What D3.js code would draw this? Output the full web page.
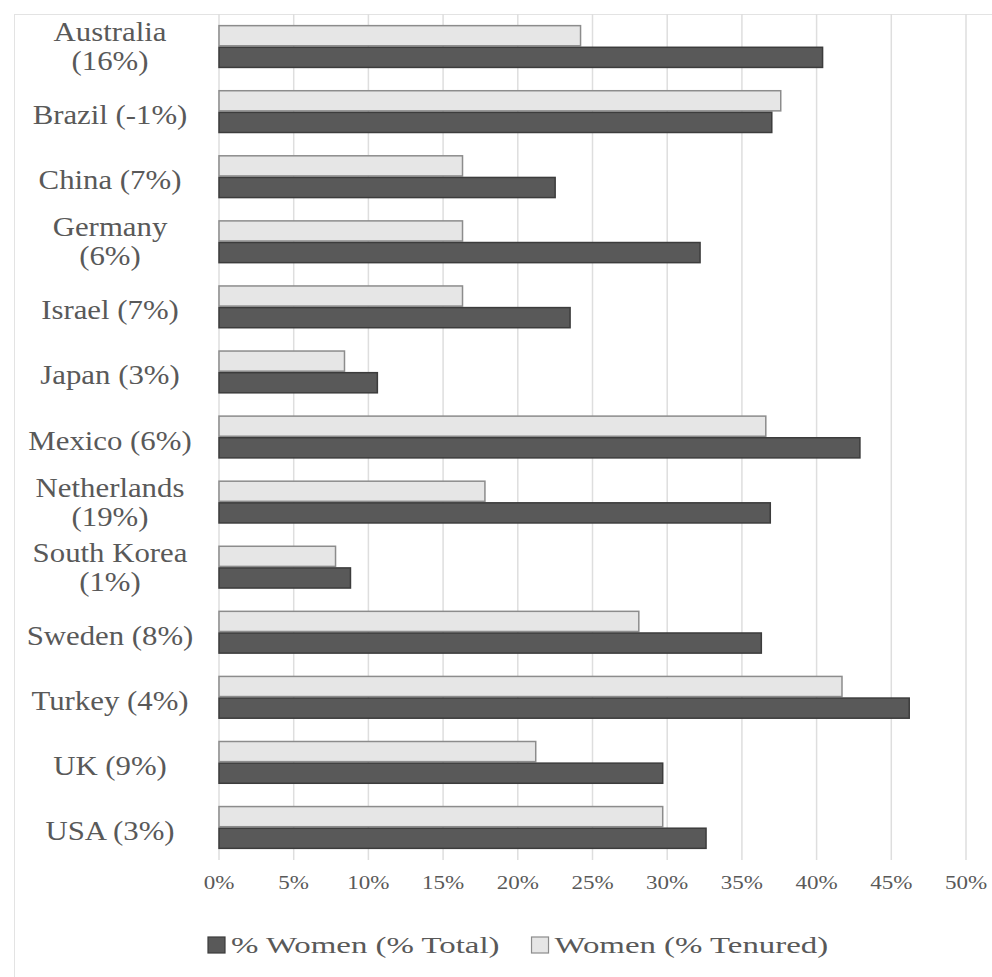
<!DOCTYPE html>
<html>
<head>
<meta charset="utf-8">
<script src="https://cdn.jsdelivr.net/npm/d3@7"></script>
<style>
  html, body { margin: 0; padding: 0; background: #ffffff; }
  svg { display: block; }
</style>
</head>
<body>
<svg id="chart" width="992" height="977"></svg>
<script>
// ---- data ----
const categories = ["Australia (16%)", "Brazil (-1%)", "China (7%)", "Germany (6%)", "Israel (7%)",
  "Japan (3%)", "Mexico (6%)", "Netherlands (19%)", "South Korea (1%)", "Sweden (8%)",
  "Turkey (4%)", "UK (9%)", "USA (3%)"];
const categoryLines = [["Australia", "(16%)"], ["Brazil (-1%)"], ["China (7%)"], ["Germany", "(6%)"],
  ["Israel (7%)"], ["Japan (3%)"], ["Mexico (6%)"], ["Netherlands", "(19%)"], ["South Korea", "(1%)"],
  ["Sweden (8%)"], ["Turkey (4%)"], ["UK (9%)"], ["USA (3%)"]];
const womenTenured = [0.242, 0.376, 0.163, 0.163, 0.163, 0.084, 0.366, 0.178, 0.078, 0.281, 0.417, 0.212, 0.297];
const womenTotal   = [0.404, 0.370, 0.225, 0.322, 0.235, 0.106, 0.429, 0.369, 0.088, 0.363, 0.462, 0.297, 0.326];
const seriesNames = ["Women (% Tenured)", "% Women (% Total)"];
const legendOrder = ["% Women (% Total)", "Women (% Tenured)"];
const tickValues = [0, 0.05, 0.10, 0.15, 0.20, 0.25, 0.30, 0.35, 0.40, 0.45, 0.50];

// ---- layout ----
const svg = d3.select("#chart");
const plotLeft = 219, plotRight = 966, plotTop = 14, plotBottom = 860;
const textColor = "#595959";
const fills = { "Women (% Tenured)": "#e6e6e6", "% Women (% Total)": "#595959" };
const strokes = { "Women (% Tenured)": "#8c8c8c", "% Women (% Total)": "#3c3c3c" };

// frame
svg.append("rect")
  .attr("x", 14.5).attr("y", 14.5).attr("width", 1000).attr("height", 1000)
  .attr("fill", "none").attr("stroke", "#e3e3e3").attr("stroke-width", 1);

const x = d3.scaleLinear().domain([0, 0.5]).range([plotLeft, plotRight]);
const y = d3.scaleBand().domain(categories).range([plotTop, plotBottom])
  .paddingInner(0.335).paddingOuter(0.1675);
const ySub = d3.scaleBand().domain(seriesNames).range([0, y.bandwidth()]);

// gridlines
svg.append("g").selectAll("line").data(tickValues).join("line")
  .attr("x1", d => x(d)).attr("x2", d => x(d))
  .attr("y1", plotTop).attr("y2", plotBottom)
  .attr("stroke", "#dedede").attr("stroke-width", 1.5);

// x tick labels
svg.append("g").selectAll("text").data(tickValues).join("text")
  .attr("transform", d => `translate(${x(d)},889) scale(1.28,1)`)
  .attr("text-anchor", "middle")
  .attr("font-family", "'Liberation Serif', 'Times New Roman', serif")
  .attr("font-size", 18)
  .attr("fill", textColor)
  .text(d => d3.format(".0%")(d));

// bars
const rows = categories.map((c, i) => ({
  cat: c,
  vals: [
    { s: "Women (% Tenured)", v: womenTenured[i] },
    { s: "% Women (% Total)", v: womenTotal[i] }
  ]
}));
const groups = svg.append("g").selectAll("g").data(rows).join("g")
  .attr("transform", d => `translate(0,${y(d.cat)})`);
groups.selectAll("rect").data(d => d.vals).join("rect")
  .attr("x", x(0))
  .attr("y", d => ySub(d.s) + 0.75)
  .attr("width", d => x(d.v) - x(0))
  .attr("height", ySub.bandwidth() - 1.5)
  .attr("fill", d => fills[d.s])
  .attr("stroke", d => strokes[d.s])
  .attr("stroke-width", 1.5);

// category labels
const catG = svg.append("g");
categories.forEach((c, i) => {
  const lines = categoryLines[i];
  const cy = y(c) + y.bandwidth() / 2;
  const base = lines.length === 1 ? cy + 12.5 : cy - 5.5;
  lines.forEach((ln, j) => {
    catG.append("text")
      .attr("transform", `translate(110,${base + j * 29}) scale(1.1,1)`)
      .attr("text-anchor", "middle")
      .attr("font-family", "'Liberation Serif', 'Times New Roman', serif")
      .attr("font-size", 28)
      .attr("fill", textColor)
      .text(ln);
  });
});

// legend
const legendG = svg.append("g");
let lx = 208;
const legendBase = 953;
const legendScale = 1.37;
legendOrder.forEach((name, i) => {
  legendG.append("rect")
    .attr("x", lx).attr("y", legendBase - 16)
    .attr("width", 17).attr("height", 16)
    .attr("fill", fills[name]).attr("stroke", strokes[name]).attr("stroke-width", 1.2);
  const t = legendG.append("text")
    .attr("transform", `translate(${lx + 23},${legendBase}) scale(${legendScale},1)`)
    .attr("font-family", "'Liberation Serif', 'Times New Roman', serif")
    .attr("font-size", 24)
    .attr("fill", textColor)
    .text(name);
  const w = t.node().getComputedTextLength() * legendScale;
  lx = lx + 23 + w + 32;
});
</script>
</body>
</html>
